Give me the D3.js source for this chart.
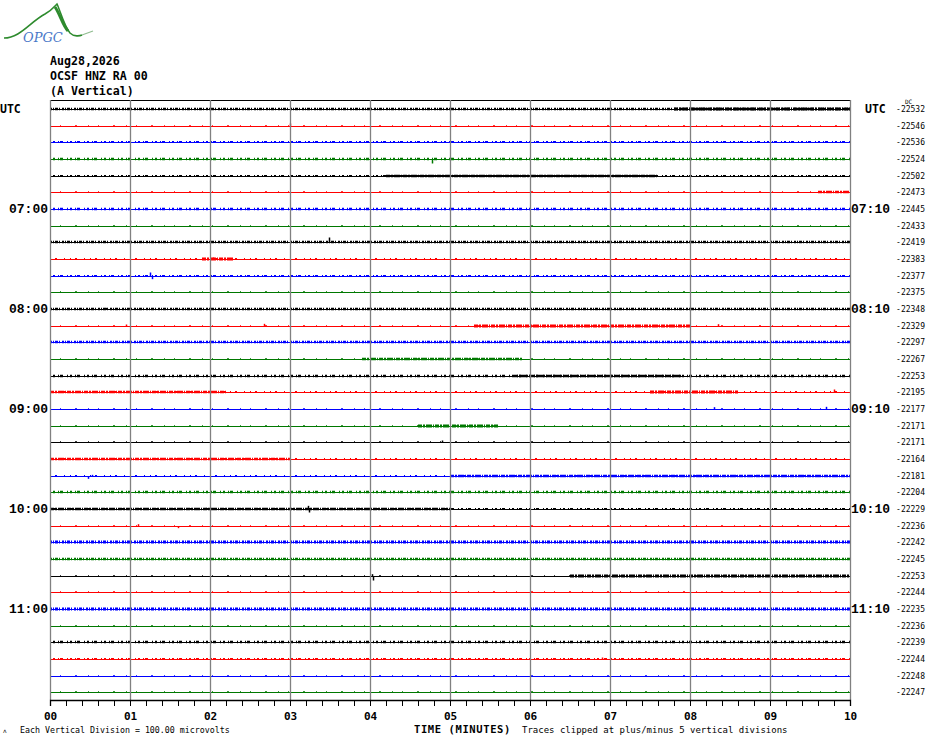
<!DOCTYPE html>
<html>
<head>
<meta charset="utf-8">
<script src="https://cdn.jsdelivr.net/npm/d3@7"></script>
<style>
  body { margin: 0; background: #fff; }
  svg text { font-family: "DejaVu Sans Mono", monospace; }
</style>
</head>
<body>
<svg id="heli" width="930" height="744"></svg>
<script>
// helicorder OCSF HNZ - 10 minutes per line

const headerLines = ["Aug28,2026", "OCSF HNZ RA 00", "(A Vertical)"];
const leftLabels = ["UTC", "07:00", "08:00", "09:00", "10:00", "11:00"];
const rightLabels = ["UTC", "07:10", "08:10", "09:10", "10:10", "11:10"];
const minuteTicks = ["00", "01", "02", "03", "04", "05", "06", "07", "08", "09", "10"];
const traceColors = ["#000000", "#ff0000", "#0000ff", "#007800"];

// DC offset shown at the right of each line
const dcValues = [-22532, -22546, -22536, -22524, -22502, -22473, -22445, -22433, -22419, -22383,
  -22377, -22375, -22348, -22329, -22297, -22267, -22253, -22195, -22177, -22171,
  -22171, -22164, -22181, -22204, -22229, -22236, -22242, -22245, -22253, -22244,
  -22235, -22236, -22239, -22244, -22248, -22247];

// background noise level of each line (microvolts, roughly)
const noiseLevel = [10, 3, 8, 9, 8, 4, 9, 4, 10, 7,
  8, 4, 11, 4, 10, 5, 9, 6, 5, 4,
  5, 7, 6, 9, 8, 4, 12, 11, 5, 4,
  12, 4, 9, 8, 5, 5];

// noisier stretches: [line, from min, to min, level]
const bursts = [
  [0, 7.8, 10, 12], [4, 4.2, 7.6, 10], [5, 9.6, 10, 10], [9, 1.9, 2.3, 12],
  [13, 5.3, 8.0, 11], [15, 3.9, 5.9, 9], [16, 5.8, 7.9, 10], [17, 0, 2.2, 9],
  [17, 7.5, 8.6, 11], [19, 4.6, 5.6, 11], [22, 5.0, 10, 9], [24, 0, 5.0, 10],
  [28, 6.5, 10, 12], [21, 0, 3.0, 9]
];

// single spikes: [line, minute, amplitude microvolts (+ up)]
const spikes = [
  [1, 3.0, 18], [3, 4.78, -24], [8, 3.49, 30], [9, 2.04, 12], [10, 1.25, 24], [10, 1.28, -16],
  [13, 2.68, 16], [13, 0.95, 12], [13, 8.35, 14], [17, 9.8, 18], [18, 8.3, 14], [18, 9.7, 16],
  [22, 0.48, -14], [22, 0.52, 10], [24, 3.22, 22], [24, 3.24, -18], [24, 1.95, 10], [25, 1.1, 14],
  [25, 1.6, -10], [28, 4.04, -24], [28, 4.02, 14], [12, 0.7, 10], [33, 6.9, 12], [20, 4.9, 12]
];

const svg = d3.select("#heli");
const x = d3.scaleLinear().domain([0, 10]).range([50, 850]);
const y = d3.scaleLinear().domain([0, dcValues.length - 1]).range([109, 692.3]);
const divPx = y(1) - y(0);
const amp = d3.scaleLinear().domain([0, 100]).range([0, -divPx]); // 1 division = 100 uV
const yRow = i => Math.round(y(i)) + 0.5;

// logo
const logo = svg.append("g");
logo.append("path")
  .attr("d", "M4,38 C20,38 30,22 45,14 C52,10 55,6 57,4 C60,10 64,26 70,33 C74,37 80,36 82,35")
  .attr("fill", "none").attr("stroke", "#2e8b2e").attr("stroke-width", 1.6);
logo.append("path")
  .attr("d", "M55,7 C60,14 63,26 68,31").attr("fill", "none").attr("stroke", "#2e8b2e").attr("stroke-width", 3);
logo.append("path")
  .attr("d", "M82,35 L93,31").attr("fill", "none").attr("stroke", "#8fbc8f").attr("stroke-width", 1.2);
logo.append("text").attr("x", 23).attr("y", 42)
  .style("font-family", "DejaVu Serif").style("font-style", "italic")
  .style("font-size", "13px").attr("fill", "#4a78c8").text("OPGC");

// header
svg.selectAll(".hdr").data(headerLines).enter().append("text")
  .attr("x", 50).attr("y", (d, i) => 65 + i * 15)
  .style("font-size", "11.6px").style("font-weight", "bold").text(d => d);

// top border
svg.append("line").attr("x1", x(0)).attr("x2", x(10)).attr("y1", 100.5).attr("y2", 100.5)
  .attr("stroke", "#000").attr("stroke-width", 1.2);

// traces
const lines = svg.append("g");
lines.selectAll(".trace").data(dcValues).enter().append("line")
  .attr("x1", x(0)).attr("x2", x(10))
  .attr("y1", (d, i) => yRow(i)).attr("y2", (d, i) => yRow(i))
  .attr("stroke", (d, i) => traceColors[i % 4]).attr("stroke-width", 1)
  .attr("shape-rendering", "crispEdges");

// noise band on each line: short speckles above/below the baseline
lines.selectAll(".noise").data(noiseLevel).enter().append("line")
  .attr("x1", x(0)).attr("x2", x(10))
  .attr("y1", (d, i) => yRow(i) - 0.5).attr("y2", (d, i) => yRow(i) - 0.5)
  .attr("stroke", (d, i) => traceColors[i % 4])
  .attr("stroke-width", d => 1 - amp(d) * 0.9)
  .attr("stroke-dasharray", d => d >= 10 ? "2 1 1 1 3 1 1 2" : d >= 8 ? "1 2 2 3 1 1 3 4" : d >= 6 ? "1 4 2 7 1 5" : "1 9 1 14 2 11");

lines.selectAll(".burst").data(bursts).enter().append("line")
  .attr("x1", d => x(d[1])).attr("x2", d => x(d[2]))
  .attr("y1", d => yRow(d[0]) - 0.5).attr("y2", d => yRow(d[0]) - 0.5)
  .attr("stroke", d => traceColors[d[0] % 4])
  .attr("stroke-width", d => 1 - amp(d[3]) * 1.0)
  .attr("stroke-dasharray", "4 1 2 1 6 1 1 1");

lines.selectAll(".spike").data(spikes).enter().append("line")
  .attr("x1", d => Math.round(x(d[1])) + 0.5).attr("x2", d => Math.round(x(d[1])) + 0.5)
  .attr("y1", d => yRow(d[0]))
  .attr("y2", d => yRow(d[0]) + amp(d[2]))
  .attr("stroke", d => traceColors[d[0] % 4]).attr("stroke-width", 1.5);

// minute grid
svg.append("g").selectAll("line").data(minuteTicks).enter().append("line")
  .attr("x1", (d, i) => x(i) + 0.5).attr("x2", (d, i) => x(i) + 0.5)
  .attr("y1", 100).attr("y2", 700)
  .attr("stroke", "#808080").attr("stroke-width", 1.3);

// hour labels
const hourRows = leftLabels.map((d, i) => i * 6);
const hourFont = (sel, i) => sel
  .style("font-family", i === 0 ? "DejaVu Sans Mono" : "Liberation Mono")
  .style("font-size", i === 0 ? "11.5px" : "13px").style("font-weight", "bold");
svg.selectAll(".lbl").data(leftLabels).enter().append("text")
  .attr("x", (d, i) => i === 0 ? 0 : 48).attr("y", (d, i) => y(hourRows[i]) + 4)
  .attr("text-anchor", (d, i) => i === 0 ? "start" : "end")
  .each(function(d, i) { hourFont(d3.select(this), i); }).text(d => d);
svg.selectAll(".rlbl").data(rightLabels).enter().append("text")
  .attr("x", (d, i) => i === 0 ? 865 : 851).attr("y", (d, i) => y(hourRows[i]) + 4)
  .each(function(d, i) { hourFont(d3.select(this), i); }).text(d => d);

// DC values
svg.selectAll(".dc").data(dcValues).enter().append("text")
  .attr("x", 925).attr("y", (d, i) => y(i) + 3)
  .attr("text-anchor", "end").style("font-size", "8px").text(d => d);
svg.append("text").attr("x", 905).attr("y", 104).style("font-size", "6px").text("DC");

// bottom axis
const axisG = svg.append("g").attr("transform", "translate(0,700)");
axisG.call(d3.axisBottom(x).ticks(60).tickSize(6).tickFormat(""));
axisG.select(".domain").attr("stroke-width", 1.3);
const labG = svg.append("g").attr("transform", "translate(0,700)");
labG.call(d3.axisBottom(x).tickValues(minuteTicks.map(Number)).tickSize(0)
  .tickFormat((d, i) => minuteTicks[i]));
labG.select(".domain").remove();
labG.selectAll("text").attr("y", 12)
  .style("font-family", "DejaVu Sans Mono").style("font-size", "11px").style("font-weight", "bold").attr("fill", "#000");

// footer
svg.append("text").attr("x", 3).attr("y", 733).style("font-size", "6px").text("\u028c");
svg.append("text").attr("x", 20).attr("y", 733).style("font-size", "8.3px")
  .text("Each Vertical Division =  100.00 microvolts");
svg.append("text").attr("x", 414).attr("y", 733).style("font-size", "10.5px").style("font-weight", "bold")
  .style("letter-spacing", "0.6px").text("TIME (MINUTES)");
svg.append("text").attr("x", 522).attr("y", 733).style("font-size", "9px")
  .text("Traces clipped at plus/minus 5 vertical divisions");
</script>
</body>
</html>
